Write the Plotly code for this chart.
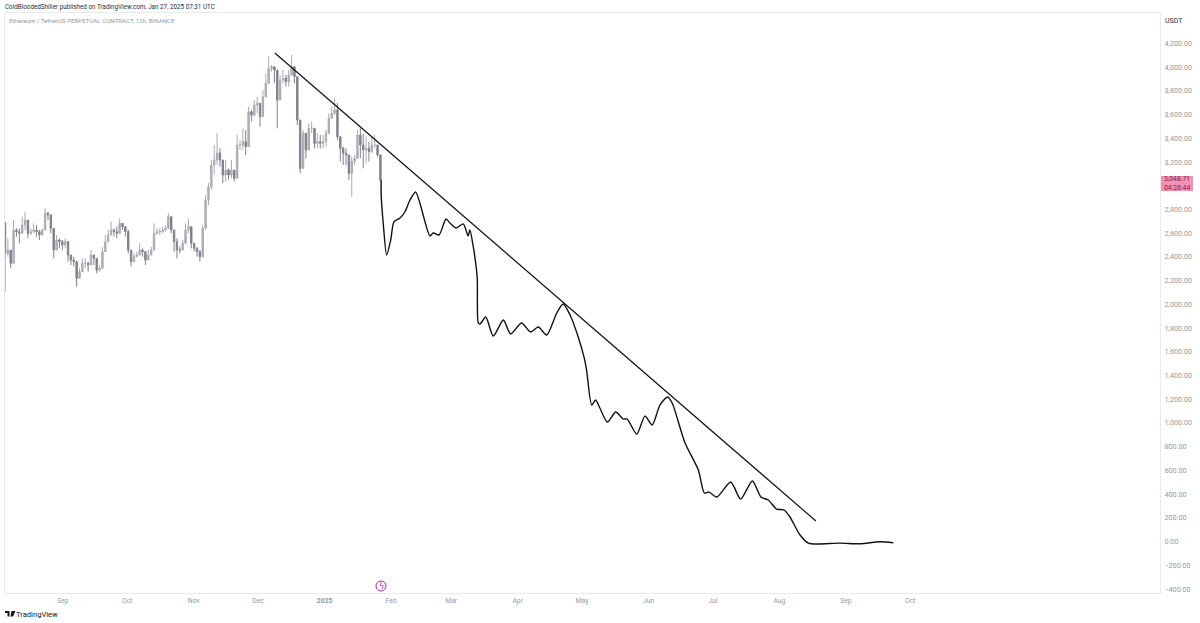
import pandas as pd
import plotly.graph_objects as go

# --- Candles (about 1.34 day spacing) ---
candle_first = "2024-08-05"
candle_last = "2025-01-27"
highs = [2692,2557,2458,2711,2641,2641,2739,2782,2627,2641,2683,2669,2627,2641,2810,2782,2711,2599,2585,2557,2543,2557,2486,2402,2402,2304,2304,2388,2388,2360,2458,2416,2346,2332,2486,2585,2627,
 2697,2641,2655,2725,2683,2641,2627,2458,2430,2444,2515,2472,2416,2458,2486,2683,2641,2641,2655,2669,2768,2683,2599,2557,2486,2543,2683,2725,2599,2515,2486,2458,
 2669,2922,3024,3218,3344,3445,
 3316,3161,3217,3147,3217,3133,3428,3386,3484,3470,3667,3639,3723,3751,3667,3808,3948,4089,4019,4004,3836,3934,3976,3934,3976,4103,3976,
 3892,3555,3471,3386,3527,3541,3428,3443,3428,3428,3471,3611,3667,3738,3696,3386,3330,3316,3246,3246,3260,3471,3485,3443,3414,3372,3414,3428,3344,3260]
lows = [2107,2402,2304,2571,2571,2515,2599,2627,2557,2585,2599,2571,2543,2599,2683,2711,2599,2388,2458,2472,2458,2472,2360,2332,2318,2149,2247,2290,2304,2276,2346,2332,2262,2276,2360,2486,2543,
 2585,2571,2557,2627,2627,2571,2430,2318,2360,2402,2416,2402,2332,2388,2430,2529,2585,2585,2599,2613,2669,2599,2444,2388,2430,2458,2571,2599,2472,2444,2402,2360,
 2391,2627,2838,2965,3091,3175,
 3161,3021,3035,3049,3063,3035,3245,3302,3302,3260,3484,3541,3583,3611,3498,3611,3780,3934,3962,3864,3484,3794,3864,3836,3836,3948,3864,
 3513,3105,3330,3232,3344,3443,3316,3316,3316,3316,3330,3471,3583,3597,3386,3204,3176,3176,3049,2908,3176,3288,3232,3147,3190,3204,3274,3316,3246,3046]
closes = [2430,2458,2346,2627,2613,2599,2669,2711,2599,2613,2627,2613,2585,2627,2768,2754,2641,2458,2543,2529,2501,2529,2416,2374,2360,2219,2276,2346,2346,2332,2416,2388,2290,2304,2444,2529,2585,
 2627,2613,2599,2683,2655,2613,2458,2360,2402,2416,2458,2444,2374,2416,2458,2599,2613,2613,2627,2641,2739,2627,2529,2458,2458,2515,2627,2655,2515,2472,2444,2402,
 2644,2880,2990,3175,3218,3276,
 3217,3091,3133,3091,3133,3063,3344,3344,3372,3330,3625,3597,3681,3695,3583,3751,3864,3990,4004,3976,3723,3892,3906,3878,3934,4004,3920,
 3555,3147,3443,3302,3485,3485,3358,3372,3358,3372,3443,3569,3611,3639,3414,3316,3274,3260,3105,3204,3232,3428,3344,3302,3316,3288,3344,3344,3260,3048.71]

# --- Hand drawn projection: days since 2024-09-01, price ---
path_days = [148.3,148.4,149.3,150.9,152.8,154.3,157.1,159.4,161.8,164.4,166.4,168.8,171.1,172.6,175.3,178.6,180.4,183.2,186.6,188.9,189.7,191.3,193.1,193.6,194.4,197.1,200.6,205.3,208.7,213.8,218,221.6,225.5,230.2,233.2,236.4,240.2,243,244.1,246.5,248.3,250.3,253.8,257.7,261.2,263,267.5,271.3,274.7,278.3,281.9,284,290,296.2,299,301.2,304.8,311.3,315.9,321.4,325.4,328.8,332.7,336.1,338.9,343.6,347.5,352.1,362.2,371.6,380.9,387.1]
path_prices = [3049,2905,2686,2416,2543,2695,2728,2779,2880,2948,2855,2695,2577,2602,2585,2720,2686,2644,2678,2577,2627,2484,2231,1843,1834,1893,1733,1868,1750,1843,1767,1809,1742,1927,2003,1910,1725,1548,1446,1151,1193,1126,1008,1092,1033,1033,907,1058,983,1151,1219,1168,831,603,409,417,375,502,358,510,375,350,274,266,207,55,-13,-21,-13,-19,-2,-10]

# --- Trend line ---
trend_days = [98.8, 351]
trend_prices = [4120, 173]

# --- Axes ---
month_ticks = ["2024-09-01","2024-10-01","2024-11-01","2024-12-01","2025-01-01","2025-02-01","2025-03-01","2025-04-01","2025-05-01","2025-06-01","2025-07-01","2025-08-01","2025-09-01","2025-10-01"]
month_labels = ["Sep","Oct","Nov","Dec","<b>2025</b>","Feb","Mar","Apr","May","Jun","Jul","Aug","Sep","Oct"]
price_ticks = [-400,-200,0,200,400,600,800,1000,1200,1400,1600,1800,2000,2200,2400,2600,2800,3200,3400,3600,3800,4000,4200]
price_labels = [("\u2212" if p < 0 else "") + f"{abs(p):,}.00" for p in price_ticks]

day0 = pd.Timestamp("2024-09-01")
to_date = lambda d: day0 + pd.Timedelta(days=float(d))

dates = pd.date_range(candle_first, candle_last, periods=len(closes))
opens = [highs[0]] + closes[:-1]

FONT = "Roboto, Inter, sans-serif"
fig = go.Figure()
fig.add_trace(go.Candlestick(
    x=dates, open=opens, high=highs, low=lows, close=closes,
    increasing=dict(line=dict(color="#a8abb3", width=1), fillcolor="#b4b6bd"),
    decreasing=dict(line=dict(color="#7f828c", width=1), fillcolor="#7f828c"),
    whiskerwidth=0, showlegend=False, hoverinfo="skip"))
fig.add_trace(go.Scatter(
    x=[to_date(d) for d in path_days], y=path_prices, mode="lines",
    line=dict(color="#111111", width=1.4, shape="spline", smoothing=0.7),
    showlegend=False, hoverinfo="skip"))
fig.add_trace(go.Scatter(
    x=[to_date(d) for d in trend_days], y=trend_prices, mode="lines",
    line=dict(color="#111111", width=1.2), showlegend=False, hoverinfo="skip"))

PW, PH = 1155, 580
px = lambda x: (x - 5) / PW
py = lambda y: (593 - y) / PH

def note(x, y, text, size=7, color="#131722", anchor="left", family=FONT):
    fig.add_annotation(xref="paper", yref="paper", x=px(x), y=py(y), text=text, showarrow=False,
                       xanchor=anchor, yanchor="middle", align="center" if anchor == "center" else "left",
                       font=dict(size=size, color=color, family=family),
                       borderpad=0, borderwidth=0)

# price badge
fig.add_shape(type="rect", xref="paper", yref="paper", x0=px(1161), x1=px(1193), y0=py(176), y1=py(191),
              fillcolor="#f590b2", line_width=0, layer="above")
note(1177, 183.5, "3,048.71<br>04:28:44", size=6.8, color="#7a1f44", anchor="center")

# header texts
note(5, 7, "ColdBloodedShiller published on TradingView.com, Jan 27, 2025 07:31 UTC", size=6.3, color="#2a2e39")
note(9, 20.5, "Ethereum / TetherUS PERPETUAL CONTRACT, 12h, BINANCE", size=6.15, color="#9598a1")
note(1174, 21, "USDT", size=7, color="#2a2e39", anchor="center")

# event marker
fig.add_shape(type="circle", xref="paper", yref="paper", x0=px(376), x1=px(386), y0=py(581), y1=py(591),
              line=dict(color="#9c27b0", width=1), fillcolor="white", layer="above")
note(381, 586, "\u03df", size=8, color="#9c27b0", anchor="center", family="DejaVu Sans")

# footer logo
fig.add_shape(type="path", xref="paper", yref="paper", layer="above", line_width=0, fillcolor="#131722",
              path=" ".join([f"M {px(5)} {py(611)}", f"L {px(9.5)} {py(611)}", f"L {px(9.5)} {py(616.5)}", f"L {px(7.5)} {py(616.5)}",
                             f"L {px(7.5)} {py(613)}", f"L {px(5)} {py(613)} Z",
                             f"M {px(11.5)} {py(611)}", f"L {px(15.5)} {py(611)}", f"L {px(13)} {py(616.5)}", f"L {px(10.5)} {py(616.5)} Z"]))
note(16, 614, "TradingView", size=7.6, color="#131722")

fig.update_layout(
    width=1200, height=623, autosize=False,
    margin=dict(l=5, r=40, t=13, b=30, autoexpand=False),
    paper_bgcolor="white", plot_bgcolor="white",
    font=dict(family=FONT, size=7, color="#9598a1"),
    xaxis=dict(type="date", range=[to_date(-27), to_date(511.4)], rangeslider=dict(visible=False),
               tickmode="array", tickvals=month_ticks, ticktext=month_labels, automargin=False,
               showgrid=False, zeroline=False, showline=True, mirror=True, linecolor="#e9eaee", linewidth=1,
               ticks="outside", ticklen=1, tickcolor="rgba(0,0,0,0)", tickfont=dict(size=6.8, color="#9598a1")),
    yaxis=dict(side="right", range=[-434, 4457], tickmode="array", tickvals=price_ticks, ticktext=price_labels, automargin=False,
               showgrid=False, zeroline=False, showline=True, mirror=True, linecolor="#e9eaee", linewidth=1,
               ticks="outside", ticklen=2, tickcolor="rgba(0,0,0,0)", tickfont=dict(size=7.2, color="#9598a1")),
)
fig.write_html("out.html", config=dict(displayModeBar=False),
               post_script="document.body.style.margin='0';document.documentElement.style.overflow='hidden';")
